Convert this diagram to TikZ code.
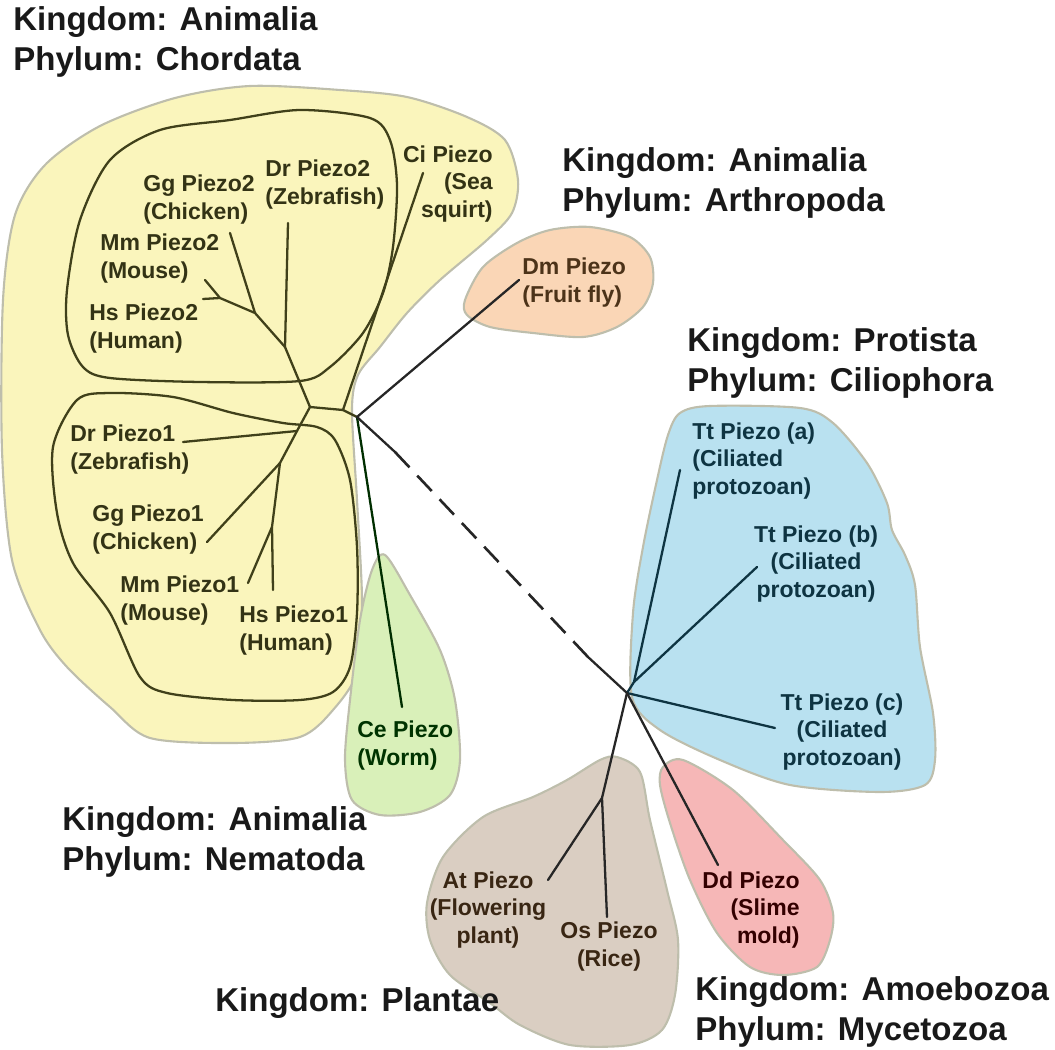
\documentclass[tikz,border=0pt]{standalone}
\usepackage{fontspec}
\setmainfont{Liberation Sans}
\definecolor{chordfill}{RGB}{250,245,188}
\definecolor{arthfill}{RGB}{250,214,182}
\definecolor{nemafill}{RGB}{217,240,185}
\definecolor{ciliofill}{RGB}{185,225,240}
\definecolor{mycefill}{RGB}{246,183,183}
\definecolor{plantfill}{RGB}{218,206,194}
\definecolor{blobedge}{RGB}{190,190,172}
\definecolor{olive}{RGB}{64,64,26}
\definecolor{tealdark}{RGB}{14,52,66}
\begin{document}
\begin{tikzpicture}[x=0.02cm, y=-0.02cm,
    title/.style={anchor=west, align=left, inner sep=0pt, text=black!90, font=\fontsize{18.8}{22.8}\selectfont\bfseries},
    leaf/.style={inner sep=0pt, font=\fontsize{13.1}{15.9}\selectfont\bfseries},
    blob/.style={draw=blobedge, line width=1.2pt},
    clade/.style={draw=olive, line width=1.3pt},
    branch/.style={line width=1.3pt, line cap=round},
]
\useasboundingbox (0,0) rectangle (1055,1050);

\draw[blob, fill=chordfill] plot[smooth cycle] coordinates {(250,86) (340,90) (407,97) (467,117) (505,140) (518,180) (512,213) (487,240) (440,280) (407,313) (380,347) (358,375) (352,410) (357,500) (362,600) (358,670) (333,710) (300,737) (233,743) (150,738) (110,707) (67,667) (40,630) (12,560) (2,450) (3,300) (15,215) (45,165) (100,126) (175,98)};
\draw[blob, fill=arthfill] plot[smooth cycle] coordinates {(483,267) (517,243) (550,230) (590,227) (630,237) (650,257) (653,283) (643,307) (617,327) (583,337) (533,333) (490,327) (467,315) (465,300)};
\draw[blob, fill=nemafill] plot[smooth cycle] coordinates {(385,555) (410,595) (440,650) (455,700) (460,760) (450,795) (420,812) (380,815) (352,800) (345,760) (350,700) (360,620) (372,570)};
\draw[blob, fill=ciliofill] plot[smooth cycle] coordinates {(680,413) (710,406) (800,408) (833,423) (867,463) (887,503) (892,530) (905,555) (915,585) (920,647) (933,713) (935,760) (925,785) (880,792) (790,785) (720,760) (660,730) (632,697) (633,613) (643,547) (657,480) (668,435)};
\draw[blob, fill=mycefill] plot[smooth cycle] coordinates {(663,767) (683,760) (733,790) (783,840) (820,880) (833,913) (830,940) (817,967) (783,975) (750,967) (717,933) (690,880) (670,823) (660,785)};
\draw[blob, fill=plantfill] plot[smooth cycle] coordinates {(617,757) (640,772) (650,820) (667,890) (678,940) (675,995) (662,1030) (630,1045) (570,1045) (520,1025) (490,1003) (450,975) (430,940) (427,903) (443,857) (483,817) (533,797) (567,780) (600,760)};

\draw[clade] plot[smooth cycle] coordinates {(300,110) (370,118) (390,140) (397,185) (393,247) (383,293) (363,333) (330,367) (300,381) (200,382) (110,378) (83,367) (68,335) (67,290) (80,220) (110,160) (160,130) (230,120)};
\draw[clade] plot[smooth cycle] coordinates {(77,400) (110,393) (173,397) (233,413) (283,423) (317,427) (335,440) (350,480) (357,547) (357,613) (350,667) (333,692) (300,700) (233,700) (167,693) (140,677) (110,613) (73,563) (57,513) (53,447)};

\coordinate (root) at (357,417);
\coordinate (vert) at (343,410);
\coordinate (pz) at (310,407);
\coordinate (pzB) at (285,347);
\coordinate (pzC) at (255,313);
\coordinate (pzD) at (220,298);
\coordinate (pzE) at (297,431);
\coordinate (pzF) at (280,463);
\coordinate (pzG) at (272,527);
\coordinate (ciEnd) at (423,173);
\coordinate (dr2End) at (288,223);
\coordinate (gg2End) at (230,233);
\coordinate (mm2End) at (205,280);
\coordinate (hs2End) at (203,299);
\coordinate (dr1End) at (183,442);
\coordinate (gg1End) at (207,542);
\coordinate (mm1End) at (248,583);
\coordinate (hs1End) at (273,590);
\coordinate (dmEnd) at (519,280);
\coordinate (ceEnd) at (402,707);
\coordinate (dashA) at (395,452);
\coordinate (dashB) at (588,657);
\coordinate (split) at (627,693);
\coordinate (ttFork) at (634,682);
\coordinate (ttaEnd) at (680,470);
\coordinate (ttbEnd) at (757,567);
\coordinate (ttcEnd) at (775,728);
\coordinate (plFork) at (602,798);
\coordinate (atEnd) at (548,880);
\coordinate (osEnd) at (607,917);
\coordinate (ddEnd) at (718,865);

\draw[branch, olive] (pz) -- (vert) -- (root);
\draw[branch, olive] (vert) -- (ciEnd);
\draw[branch, olive] (pz) -- (pzB) -- (pzC) -- (pzD) -- (mm2End);
\draw[branch, olive] (pzD) -- (hs2End);
\draw[branch, olive] (pzB) -- (dr2End);
\draw[branch, olive] (pzC) -- (gg2End);
\draw[branch, olive] (pz) -- (pzE) -- (pzF) -- (pzG) -- (hs1End);
\draw[branch, olive] (pzE) -- (dr1End);
\draw[branch, olive] (pzF) -- (gg1End);
\draw[branch, olive] (pzG) -- (mm1End);
\draw[branch, black!85] (root) -- (dmEnd);
\draw[branch, black!70!green!60!black] (root) -- (ceEnd);
\draw[branch, black!85] (root) -- (dashA);
\draw[branch, black!85, line width=1.5pt, line cap=butt, dash pattern=on 12pt off 6.5pt] (dashA) -- (dashB);
\draw[branch, black!85] (dashB) -- (split);
\draw[branch, tealdark] (split) -- (ttFork) -- (ttaEnd);
\draw[branch, tealdark] (ttFork) -- (ttbEnd);
\draw[branch, tealdark] (split) -- (ttcEnd);
\draw[branch, black!85] (split) -- (plFork) -- (atEnd);
\draw[branch, black!85] (plFork) -- (osEnd);
\draw[branch, black!85] (split) -- (ddEnd);

\node[title] (chordT) at (13,42) {Kingdom: Animalia\\Phylum: Chordata};
\node[title] (arthT) at (562,183) {Kingdom: Animalia\\Phylum: Arthropoda};
\node[title] (cilioT) at (687,363) {Kingdom: Protista\\Phylum: Ciliophora};
\node[title] (nemaT) at (62,842) {Kingdom: Animalia\\Phylum: Nematoda};
\node[title] (plantT) at (215,1003) {Kingdom: Plantae};
\node[title] (myceT) at (695,1012) {Kingdom: Amoebozoa\\Phylum: Mycetozoa};

\node[leaf, anchor=west, align=left, text=olive!80!black] (gg2) at (143,200) {Gg Piezo2\\(Chicken)};
\node[leaf, anchor=west, align=left, text=olive!80!black] (dr2) at (265,185) {Dr Piezo2\\(Zebrafish)};
\node[leaf, anchor=west, align=left, text=olive!80!black] (mm2) at (100,259) {Mm Piezo2\\(Mouse)};
\node[leaf, anchor=west, align=left, text=olive!80!black] (hs2) at (89,329) {Hs Piezo2\\(Human)};
\node[leaf, anchor=east, align=right, text=olive!80!black] (ci) at (493,184) {Ci Piezo\\(Sea\\squirt)};
\node[leaf, anchor=west, align=left, text=olive!80!black] (dr1) at (70,450) {Dr Piezo1\\(Zebrafish)};
\node[leaf, anchor=west, align=left, text=olive!80!black] (gg1) at (92,530) {Gg Piezo1\\(Chicken)};
\node[leaf, anchor=west, align=left, text=olive!80!black] (mm1) at (120,601) {Mm Piezo1\\(Mouse)};
\node[leaf, anchor=west, align=left, text=olive!80!black] (hs1) at (239,631) {Hs Piezo1\\(Human)};
\node[leaf, anchor=west, align=left, text=green!20!black] (ce) at (357,746) {Ce Piezo\\(Worm)};
\node[leaf, anchor=west, align=left, text=brown!40!black] (dm) at (522,283) {Dm Piezo\\(Fruit fly)};
\node[leaf, anchor=west, align=left, text=tealdark] (tta) at (692,461) {Tt Piezo (a)\\(Ciliated\\protozoan)};
\node[leaf, align=center, text=tealdark] (ttb) at (816,564) {Tt Piezo (b)\\(Ciliated\\protozoan)};
\node[leaf, align=center, text=tealdark] (ttc) at (842,732) {Tt Piezo (c)\\(Ciliated\\protozoan)};
\node[leaf, align=center, text=brown!30!black] (at) at (488,910) {At Piezo\\(Flowering\\plant)};
\node[leaf, align=center, text=brown!30!black] (os) at (609,947) {Os Piezo\\(Rice)};
\node[leaf, anchor=east, align=right, text=red!20!black] (dd) at (800,910) {Dd Piezo\\(Slime\\mold)};
\end{tikzpicture}
\end{document}
